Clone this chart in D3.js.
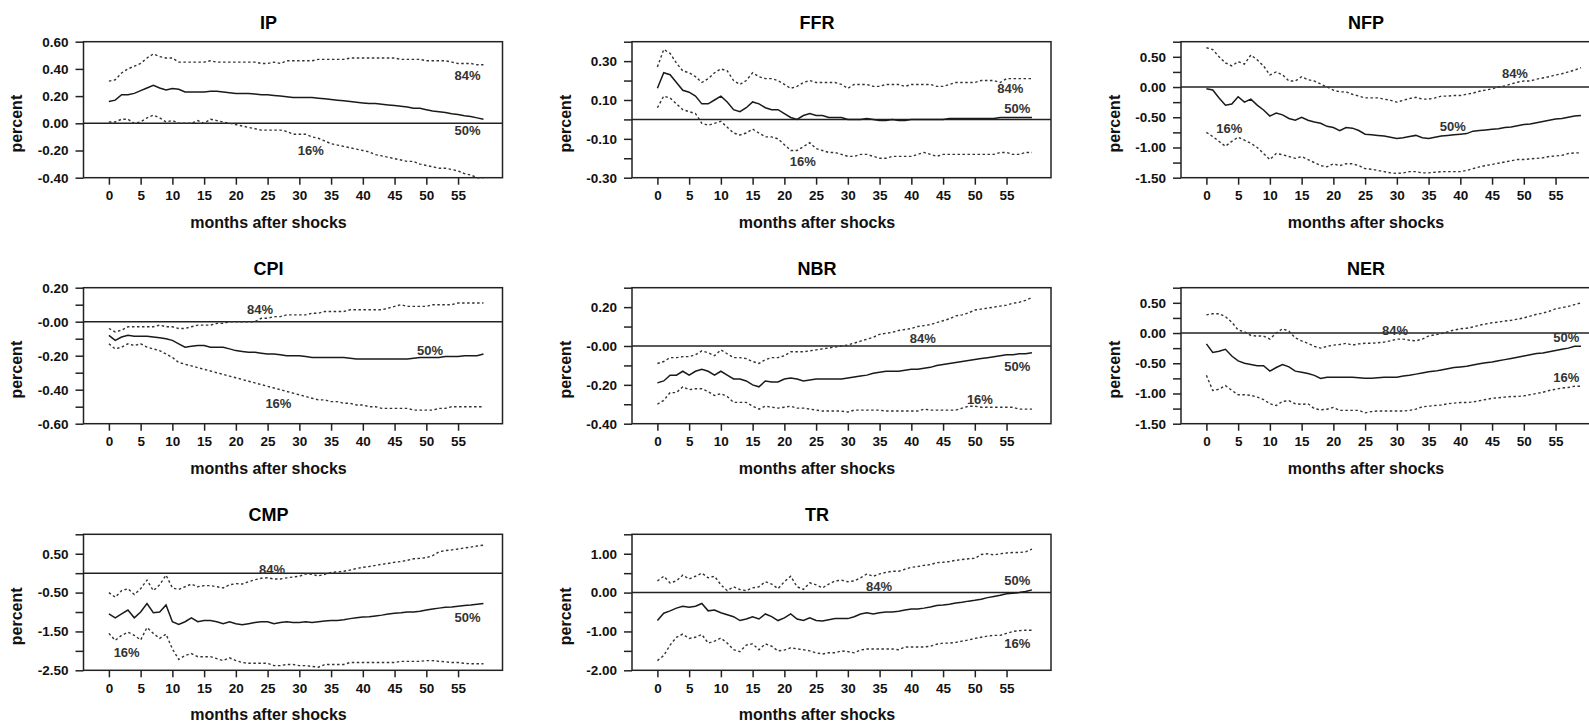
<!DOCTYPE html>
<html><head><meta charset="utf-8">
<script src="https://cdn.jsdelivr.net/npm/d3@7"></script>
<style>
body{margin:0;background:#fff}
svg{display:block}
text{font-family:"Liberation Sans",Arial,sans-serif;font-weight:bold}
</style>
</head><body>
<svg id="chart" width="1589" height="722"></svg>
<script>
// ---------- data (months 0..59) ----------
const ipMed = [0.16,0.17,0.21,0.21,0.22,0.24,0.26,0.28,0.26,0.245, 0.255,0.25,0.23,0.23,0.23,0.23,0.235,0.235,0.23,0.225, 0.22,0.22,0.22,0.215,0.21,0.21,0.205,0.20,0.195,0.19, 0.19,0.19,0.19,0.185,0.18,0.175,0.17,0.165,0.16,0.155, 0.15,0.145,0.145,0.14,0.135,0.13,0.125,0.12,0.11,0.11, 0.10,0.09,0.085,0.08,0.07,0.065,0.055,0.05,0.04,0.03];
const ipUp = [0.31,0.32,0.37,0.40,0.42,0.44,0.48,0.51,0.49,0.48, 0.48,0.45,0.45,0.45,0.45,0.45,0.46,0.45,0.45,0.45, 0.45,0.45,0.45,0.45,0.44,0.44,0.45,0.44,0.46,0.46, 0.46,0.46,0.46,0.47,0.47,0.47,0.47,0.47,0.48,0.48, 0.48,0.48,0.48,0.48,0.48,0.48,0.47,0.47,0.47,0.47, 0.46,0.46,0.46,0.46,0.45,0.44,0.44,0.44,0.43,0.43];
const ipLo = [0.01,0.01,0.03,0.03,0.00,0.01,0.04,0.06,0.04,0.01, 0.02,0.00,0.00,0.00,0.02,0.00,0.03,0.02,0.01,0.00, -0.01,-0.02,-0.03,-0.04,-0.05,-0.05,-0.05,-0.05,-0.06,-0.08, -0.08,-0.08,-0.10,-0.11,-0.13,-0.15,-0.16,-0.17,-0.18,-0.19, -0.20,-0.21,-0.23,-0.24,-0.25,-0.26,-0.27,-0.28,-0.28,-0.30, -0.31,-0.32,-0.33,-0.33,-0.34,-0.35,-0.37,-0.38,-0.40,-0.40];

const ffrMed = [0.16,0.24,0.23,0.19,0.15,0.14,0.12,0.08,0.08,0.10, 0.12,0.09,0.05,0.04,0.06,0.09,0.08,0.06,0.05,0.05, 0.03,0.01,0.00,0.02,0.03,0.02,0.02,0.01,0.01,0.01, 0.00,0.00,0.00,0.005,0.00,-0.005,-0.005,0.00,-0.005,-0.005, 0.00,0.00,0.00,0.00,0.00,0.00,0.005,0.005,0.005,0.005, 0.005,0.005,0.005,0.005,0.01,0.01,0.01,0.01,0.01,0.01];
const ffrUp = [0.27,0.36,0.34,0.29,0.25,0.24,0.22,0.19,0.21,0.24, 0.26,0.25,0.20,0.18,0.20,0.24,0.22,0.21,0.21,0.20, 0.18,0.16,0.17,0.19,0.20,0.19,0.19,0.19,0.19,0.18, 0.16,0.18,0.18,0.18,0.17,0.17,0.18,0.18,0.18,0.17, 0.18,0.18,0.18,0.18,0.17,0.17,0.18,0.19,0.19,0.19, 0.19,0.20,0.20,0.20,0.19,0.21,0.21,0.21,0.21,0.21];
const ffrLo = [0.06,0.12,0.11,0.08,0.05,0.04,0.03,-0.02,-0.03,-0.02, -0.01,-0.04,-0.07,-0.08,-0.07,-0.05,-0.07,-0.09,-0.09,-0.10, -0.13,-0.16,-0.16,-0.14,-0.12,-0.15,-0.16,-0.17,-0.17,-0.18, -0.19,-0.19,-0.18,-0.18,-0.19,-0.20,-0.20,-0.19,-0.19,-0.19, -0.19,-0.18,-0.17,-0.18,-0.19,-0.18,-0.18,-0.18,-0.18,-0.18, -0.18,-0.18,-0.18,-0.18,-0.17,-0.17,-0.18,-0.18,-0.17,-0.17];

const nfpMed = [-0.03,-0.05,-0.18,-0.30,-0.28,-0.16,-0.25,-0.20,-0.30,-0.38, -0.48,-0.43,-0.46,-0.52,-0.55,-0.50,-0.55,-0.58,-0.60,-0.65, -0.67,-0.72,-0.67,-0.68,-0.72,-0.78,-0.79,-0.80,-0.81,-0.83, -0.85,-0.84,-0.82,-0.80,-0.84,-0.85,-0.83,-0.81,-0.80,-0.79, -0.78,-0.77,-0.73,-0.72,-0.71,-0.70,-0.69,-0.67,-0.66,-0.64, -0.62,-0.61,-0.59,-0.57,-0.55,-0.53,-0.52,-0.50,-0.48,-0.47];
const nfpUp = [0.65,0.62,0.50,0.40,0.35,0.42,0.38,0.53,0.45,0.35, 0.20,0.25,0.20,0.10,0.10,0.17,0.12,0.10,0.05,0.00, -0.05,-0.08,-0.08,-0.12,-0.15,-0.18,-0.18,-0.18,-0.20,-0.22, -0.25,-0.22,-0.19,-0.17,-0.20,-0.20,-0.18,-0.15,-0.15,-0.14, -0.14,-0.12,-0.10,-0.07,-0.05,-0.03,0.00,0.02,0.05,0.08, 0.10,0.10,0.13,0.15,0.17,0.20,0.22,0.25,0.28,0.32];
const nfpLo = [-0.75,-0.82,-0.90,-0.98,-0.90,-0.83,-0.88,-0.93,-1.00,-1.10, -1.20,-1.10,-1.12,-1.15,-1.18,-1.15,-1.20,-1.25,-1.30,-1.32, -1.27,-1.30,-1.27,-1.27,-1.30,-1.35,-1.36,-1.38,-1.40,-1.42, -1.43,-1.42,-1.40,-1.40,-1.42,-1.42,-1.41,-1.40,-1.40,-1.40, -1.40,-1.38,-1.35,-1.32,-1.30,-1.28,-1.26,-1.24,-1.22,-1.20, -1.20,-1.19,-1.18,-1.17,-1.15,-1.14,-1.13,-1.10,-1.09,-1.09];

const cpiMed = [-0.08,-0.11,-0.09,-0.08,-0.085,-0.085,-0.085,-0.09,-0.095,-0.10, -0.11,-0.13,-0.15,-0.145,-0.14,-0.14,-0.15,-0.15,-0.15,-0.16, -0.17,-0.175,-0.18,-0.18,-0.185,-0.19,-0.19,-0.195,-0.20,-0.20, -0.20,-0.205,-0.21,-0.21,-0.21,-0.21,-0.21,-0.21,-0.215,-0.22, -0.22,-0.22,-0.22,-0.22,-0.22,-0.22,-0.22,-0.22,-0.215,-0.21, -0.21,-0.21,-0.21,-0.205,-0.205,-0.205,-0.20,-0.20,-0.20,-0.19];
const cpiUp = [-0.04,-0.06,-0.05,-0.03,-0.03,-0.03,-0.03,-0.03,-0.02,-0.03, -0.03,-0.04,-0.04,-0.03,-0.02,-0.02,-0.02,-0.01,-0.01,0.00, 0.00,0.00,0.00,0.00,0.02,0.02,0.03,0.03,0.04,0.04, 0.04,0.04,0.05,0.05,0.06,0.06,0.06,0.06,0.07,0.07, 0.07,0.07,0.07,0.07,0.08,0.09,0.10,0.09,0.09,0.09, 0.09,0.10,0.10,0.10,0.10,0.11,0.11,0.11,0.11,0.11];
const cpiLo = [-0.13,-0.16,-0.15,-0.13,-0.14,-0.13,-0.15,-0.16,-0.17,-0.19, -0.21,-0.24,-0.25,-0.26,-0.27,-0.28,-0.29,-0.30,-0.31,-0.32, -0.33,-0.34,-0.35,-0.36,-0.37,-0.38,-0.39,-0.40,-0.41,-0.42, -0.43,-0.44,-0.45,-0.46,-0.46,-0.47,-0.47,-0.48,-0.48,-0.49, -0.49,-0.50,-0.50,-0.51,-0.51,-0.51,-0.51,-0.51,-0.52,-0.52, -0.52,-0.52,-0.51,-0.51,-0.50,-0.50,-0.50,-0.50,-0.50,-0.50];

const nbrMed = [-0.19,-0.18,-0.15,-0.15,-0.13,-0.15,-0.13,-0.12,-0.13,-0.15, -0.13,-0.15,-0.17,-0.17,-0.18,-0.20,-0.21,-0.18,-0.185,-0.185, -0.17,-0.165,-0.17,-0.18,-0.175,-0.17,-0.17,-0.17,-0.17,-0.17, -0.165,-0.16,-0.155,-0.15,-0.14,-0.135,-0.13,-0.13,-0.13,-0.125, -0.12,-0.12,-0.115,-0.11,-0.10,-0.095,-0.09,-0.085,-0.08,-0.075, -0.07,-0.065,-0.06,-0.055,-0.05,-0.045,-0.045,-0.04,-0.04,-0.035];
const nbrUp = [-0.09,-0.08,-0.06,-0.06,-0.055,-0.055,-0.045,-0.025,-0.035,-0.05, -0.02,-0.04,-0.06,-0.06,-0.065,-0.08,-0.09,-0.07,-0.06,-0.06, -0.05,-0.03,-0.03,-0.03,-0.025,-0.02,-0.015,-0.01,-0.005,0.00, 0.005,0.015,0.025,0.035,0.045,0.06,0.065,0.07,0.08,0.085, 0.09,0.10,0.105,0.11,0.12,0.13,0.14,0.155,0.16,0.17, 0.185,0.19,0.195,0.20,0.205,0.21,0.22,0.225,0.235,0.25];
const nbrLo = [-0.30,-0.28,-0.24,-0.24,-0.21,-0.225,-0.22,-0.22,-0.235,-0.255, -0.245,-0.26,-0.29,-0.29,-0.29,-0.31,-0.325,-0.31,-0.315,-0.32, -0.315,-0.31,-0.32,-0.32,-0.325,-0.33,-0.335,-0.335,-0.335,-0.335, -0.34,-0.33,-0.33,-0.33,-0.33,-0.33,-0.335,-0.335,-0.335,-0.335, -0.335,-0.335,-0.325,-0.33,-0.33,-0.33,-0.33,-0.33,-0.32,-0.31, -0.31,-0.315,-0.315,-0.315,-0.315,-0.315,-0.315,-0.325,-0.325,-0.325];

const nerMed = [-0.18,-0.32,-0.30,-0.27,-0.38,-0.46,-0.50,-0.52,-0.54,-0.54, -0.63,-0.57,-0.52,-0.56,-0.63,-0.65,-0.67,-0.70,-0.75,-0.73, -0.73,-0.73,-0.73,-0.73,-0.74,-0.75,-0.75,-0.74,-0.73,-0.73, -0.73,-0.71,-0.70,-0.68,-0.66,-0.64,-0.63,-0.61,-0.59,-0.57, -0.56,-0.55,-0.53,-0.51,-0.49,-0.48,-0.46,-0.44,-0.42,-0.40, -0.38,-0.36,-0.34,-0.33,-0.31,-0.29,-0.27,-0.25,-0.22,-0.22];
const nerUp = [0.30,0.32,0.32,0.27,0.18,0.05,0.02,-0.04,-0.05,-0.05, -0.10,0.00,0.07,0.03,-0.08,-0.13,-0.17,-0.22,-0.25,-0.22, -0.20,-0.19,-0.17,-0.20,-0.18,-0.17,-0.17,-0.16,-0.15,-0.13, -0.10,-0.10,-0.12,-0.13,-0.10,-0.05,-0.03,-0.01,0.02,0.05, 0.07,0.08,0.10,0.13,0.15,0.17,0.18,0.20,0.21,0.23, 0.25,0.28,0.31,0.33,0.36,0.40,0.42,0.44,0.47,0.50];
const nerLo = [-0.70,-0.95,-0.93,-0.87,-0.95,-1.02,-1.02,-1.03,-1.06,-1.10, -1.17,-1.20,-1.13,-1.12,-1.17,-1.18,-1.17,-1.25,-1.27,-1.26, -1.23,-1.28,-1.28,-1.28,-1.28,-1.32,-1.30,-1.29,-1.29,-1.29, -1.29,-1.29,-1.28,-1.26,-1.22,-1.21,-1.20,-1.19,-1.17,-1.16, -1.15,-1.15,-1.14,-1.12,-1.10,-1.08,-1.07,-1.06,-1.05,-1.05, -1.04,-1.02,-1.00,-0.98,-0.95,-0.93,-0.91,-0.90,-0.88,-0.88];

const cmpMed = [-1.05,-1.15,-1.05,-0.95,-1.15,-1.00,-0.78,-1.02,-1.00,-0.82, -1.25,-1.32,-1.25,-1.15,-1.25,-1.22,-1.22,-1.25,-1.30,-1.25, -1.30,-1.33,-1.30,-1.27,-1.25,-1.25,-1.30,-1.27,-1.25,-1.27, -1.27,-1.25,-1.27,-1.25,-1.23,-1.22,-1.22,-1.20,-1.17,-1.15, -1.13,-1.12,-1.10,-1.08,-1.05,-1.03,-1.02,-1.00,-1.00,-0.98, -0.95,-0.92,-0.90,-0.88,-0.87,-0.85,-0.83,-0.82,-0.80,-0.78];
const cmpUp = [-0.50,-0.62,-0.45,-0.40,-0.55,-0.40,-0.18,-0.45,-0.30,-0.05, -0.38,-0.42,-0.35,-0.28,-0.35,-0.32,-0.32,-0.35,-0.38,-0.30, -0.27,-0.28,-0.22,-0.17,-0.13,-0.12,-0.15,-0.15,-0.12,-0.10, -0.08,-0.02,-0.03,-0.07,-0.03,0.02,0.03,0.05,0.08,0.12, 0.15,0.17,0.20,0.23,0.25,0.28,0.30,0.33,0.37,0.38, 0.40,0.45,0.55,0.58,0.60,0.62,0.65,0.67,0.70,0.72];
const cmpLo = [-1.55,-1.73,-1.60,-1.52,-1.60,-1.72,-1.40,-1.55,-1.68,-1.57, -1.95,-2.22,-2.12,-2.07,-2.15,-2.15,-2.15,-2.20,-2.25,-2.18, -2.25,-2.30,-2.32,-2.32,-2.32,-2.32,-2.38,-2.38,-2.35,-2.35, -2.38,-2.38,-2.40,-2.42,-2.35,-2.35,-2.35,-2.35,-2.30,-2.30, -2.30,-2.30,-2.30,-2.30,-2.30,-2.30,-2.27,-2.27,-2.27,-2.27, -2.25,-2.25,-2.27,-2.28,-2.30,-2.30,-2.32,-2.33,-2.33,-2.33];

const trMed = [-0.72,-0.53,-0.47,-0.40,-0.35,-0.38,-0.35,-0.28,-0.47,-0.45, -0.52,-0.57,-0.62,-0.72,-0.68,-0.62,-0.68,-0.55,-0.62,-0.72, -0.65,-0.55,-0.68,-0.72,-0.65,-0.72,-0.73,-0.70,-0.67,-0.67, -0.67,-0.62,-0.55,-0.52,-0.55,-0.52,-0.50,-0.50,-0.48,-0.45, -0.42,-0.42,-0.40,-0.37,-0.33,-0.32,-0.30,-0.27,-0.25,-0.22, -0.20,-0.17,-0.13,-0.10,-0.07,-0.03,-0.02,0.00,0.03,0.07];
const trUp = [0.30,0.42,0.25,0.30,0.45,0.35,0.42,0.50,0.38,0.42, 0.20,0.05,0.15,0.08,0.05,0.12,0.15,0.28,0.22,0.10, 0.28,0.42,0.15,0.08,0.25,0.20,0.12,0.22,0.30,0.32, 0.28,0.30,0.38,0.48,0.42,0.48,0.52,0.55,0.55,0.60, 0.65,0.67,0.70,0.72,0.77,0.78,0.80,0.83,0.85,0.87, 0.88,0.98,1.00,0.97,1.00,1.02,1.03,1.03,1.05,1.12];
const trLo = [-1.75,-1.62,-1.35,-1.15,-1.07,-1.18,-1.15,-1.08,-1.30,-1.25, -1.17,-1.30,-1.47,-1.52,-1.35,-1.32,-1.47,-1.32,-1.38,-1.50, -1.48,-1.42,-1.45,-1.47,-1.50,-1.55,-1.58,-1.55,-1.55,-1.50, -1.52,-1.55,-1.48,-1.45,-1.45,-1.45,-1.45,-1.45,-1.47,-1.40, -1.40,-1.40,-1.40,-1.38,-1.33,-1.30,-1.30,-1.28,-1.25,-1.22, -1.18,-1.15,-1.12,-1.10,-1.10,-1.05,-1.00,-0.98,-0.97,-0.97];

// ---------- axes ----------
const xTicks = [0,5,10,15,20,25,30,35,40,45,50,55];
const ipTicks = [-0.4,-0.2,0,0.2,0.4,0.6];
const ipTickLabels = ["-0.40","-0.20","0.00","0.20","0.40","0.60"];
const ffrTicks = [-0.3,-0.2,-0.1,0,0.1,0.2,0.3,0.4];
const ffrTickLabels = ["-0.30","","-0.10","","0.10","","0.30",""];
const nfpTicks = [-1.5,-1.25,-1,-0.75,-0.5,-0.25,0,0.25,0.5,0.75];
const nfpTickLabels = ["-1.50","","-1.00","","-0.50","","0.00","","0.50",""];
const cpiTicks = [-0.6,-0.5,-0.4,-0.3,-0.2,-0.1,0,0.1,0.2];
const cpiTickLabels = ["-0.60","","-0.40","","-0.20","","-0.00","","0.20"];
const nbrTicks = [-0.4,-0.3,-0.2,-0.1,0,0.1,0.2,0.3];
const nbrTickLabels = ["-0.40","","-0.20","","-0.00","","0.20",""];
const nerTicks = [-1.5,-1.25,-1,-0.75,-0.5,-0.25,0,0.25,0.5,0.75];
const nerTickLabels = ["-1.50","","-1.00","","-0.50","","0.00","","0.50",""];
const cmpTicks = [-2.5,-2,-1.5,-1,-0.5,0,0.5,1];
const cmpTickLabels = ["-2.50","","-1.50","","-0.50","","0.50",""];
const trTicks = [-2,-1.5,-1,-0.5,0,0.5,1,1.5];
const trTickLabels = ["-2.00","","-1.00","","0.00","","1.00",""];

// percentile labels: [month, value] for 84%, 50%, 16%
const pctNames = ["84%","50%","16%"];
const ipPct  = [[56.5,0.355],[56.5,-0.05],[31.8,-0.20]];
const ffrPct = [[55.6,0.16],[56.7,0.056],[22.9,-0.215]];
const nfpPct = [[48.6,0.23],[38.8,-0.65],[3.6,-0.69]];
const cpiPct = [[23.8,0.07],[50.6,-0.167],[26.7,-0.48]];
const nbrPct = [[41.8,0.04],[56.7,-0.106],[50.8,-0.275]];
const nerPct = [[29.7,0.04],[56.7,-0.08],[56.7,-0.74]];
const cmpPct = [[25.7,0.10],[56.5,-1.13],[2.8,-2.04]];
const trPct  = [[34.9,0.17],[56.7,0.31],[56.7,-1.32]];

const panels = [
  {name:"IP",  med:ipMed,  up:ipUp,  lo:ipLo,  domain:[-0.4,0.6],  ticks:ipTicks,  labels:ipTickLabels,  pct:ipPct},
  {name:"FFR", med:ffrMed, up:ffrUp, lo:ffrLo, domain:[-0.3,0.4],  ticks:ffrTicks, labels:ffrTickLabels, pct:ffrPct},
  {name:"NFP", med:nfpMed, up:nfpUp, lo:nfpLo, domain:[-1.5,0.75], ticks:nfpTicks, labels:nfpTickLabels, pct:nfpPct},
  {name:"CPI", med:cpiMed, up:cpiUp, lo:cpiLo, domain:[-0.6,0.2],  ticks:cpiTicks, labels:cpiTickLabels, pct:cpiPct},
  {name:"NBR", med:nbrMed, up:nbrUp, lo:nbrLo, domain:[-0.4,0.3],  ticks:nbrTicks, labels:nbrTickLabels, pct:nbrPct},
  {name:"NER", med:nerMed, up:nerUp, lo:nerLo, domain:[-1.5,0.75], ticks:nerTicks, labels:nerTickLabels, pct:nerPct},
  {name:"CMP", med:cmpMed, up:cmpUp, lo:cmpLo, domain:[-2.5,1.0],  ticks:cmpTicks, labels:cmpTickLabels, pct:cmpPct},
  {name:"TR",  med:trMed,  up:trUp,  lo:trLo,  domain:[-2.0,1.5],  ticks:trTicks,  labels:trTickLabels,  pct:trPct}
];

// ---------- layout ----------
const colLeft = [83.5, 632, 1181];
const rowTop = [41.7, 287.7, 534.3];
const W = 419, H = 136;
const svg = d3.select("#chart");

panels.forEach((p, i) => {
  const c = i % 3, r = Math.floor(i / 3);
  const g = svg.append("g").attr("transform", `translate(${colLeft[c]},${rowTop[r]})`);
  const x = d3.scaleLinear().domain([-4, 62]).range([0, W]);
  const y = d3.scaleLinear().domain(p.domain).range([H, 0]);

  // y axis
  const ya = g.append("g").call(
    d3.axisLeft(y).tickValues(p.ticks).tickFormat((d, k) => p.labels[k])
      .tickSize(8).tickSizeOuter(0).tickPadding(7));
  ya.select(".domain").remove();
  ya.selectAll("line").attr("stroke", "#222").attr("stroke-width", 1.5);
  ya.selectAll("text").attr("font-size", 13.5).attr("fill", "#111")
    .attr("font-family", '"Liberation Sans",Arial,sans-serif').attr("font-weight", "bold");

  // x axis
  const xa = g.append("g").attr("transform", `translate(0,${H})`).call(
    d3.axisBottom(x).tickValues(xTicks).tickSize(7).tickSizeOuter(0).tickPadding(6));
  xa.select(".domain").remove();
  xa.selectAll("line").attr("stroke", "#222").attr("stroke-width", 1.5);
  xa.selectAll("text").attr("font-size", 13.5).attr("fill", "#111")
    .attr("font-family", '"Liberation Sans",Arial,sans-serif').attr("font-weight", "bold");

  // frame
  g.append("rect").attr("x", 0).attr("y", 0).attr("width", W).attr("height", H)
    .attr("fill", "none").attr("stroke", "#222").attr("stroke-width", 1.5);

  // zero line
  g.append("line").attr("x1", 0).attr("x2", W).attr("y1", y(0)).attr("y2", y(0))
    .attr("stroke", "#222").attr("stroke-width", 1.5);

  const line = d3.line().x((d, k) => x(k)).y(d => y(d));
  g.append("path").attr("d", line(p.up)).attr("fill", "none")
    .attr("stroke", "#333").attr("stroke-width", 1.4).attr("stroke-dasharray", "2.5,2.5");
  g.append("path").attr("d", line(p.lo)).attr("fill", "none")
    .attr("stroke", "#333").attr("stroke-width", 1.4).attr("stroke-dasharray", "2.5,2.5");
  g.append("path").attr("d", line(p.med)).attr("fill", "none")
    .attr("stroke", "#1a1a1a").attr("stroke-width", 1.5);

  // percentile labels
  p.pct.forEach((pos, k) => {
    g.append("text").attr("x", x(pos[0])).attr("y", y(pos[1])).attr("dy", "0.35em")
      .attr("text-anchor", "middle").attr("font-size", 13).attr("fill", "#333")
      .text(pctNames[k]);
  });

  // title
  g.append("text").attr("x", 185).attr("y", -13).attr("text-anchor", "middle")
    .attr("font-size", 18).attr("fill", "#000").text(p.name);
  // x label
  g.append("text").attr("x", 185).attr("y", H + 50).attr("text-anchor", "middle")
    .attr("font-size", 16).attr("fill", "#111").text("months after shocks");
  // y label
  g.append("text").attr("transform", `translate(-61.5,82) rotate(-90)`)
    .attr("text-anchor", "middle").attr("font-size", 16).attr("fill", "#111").text("percent");
});
</script>
</body></html>
